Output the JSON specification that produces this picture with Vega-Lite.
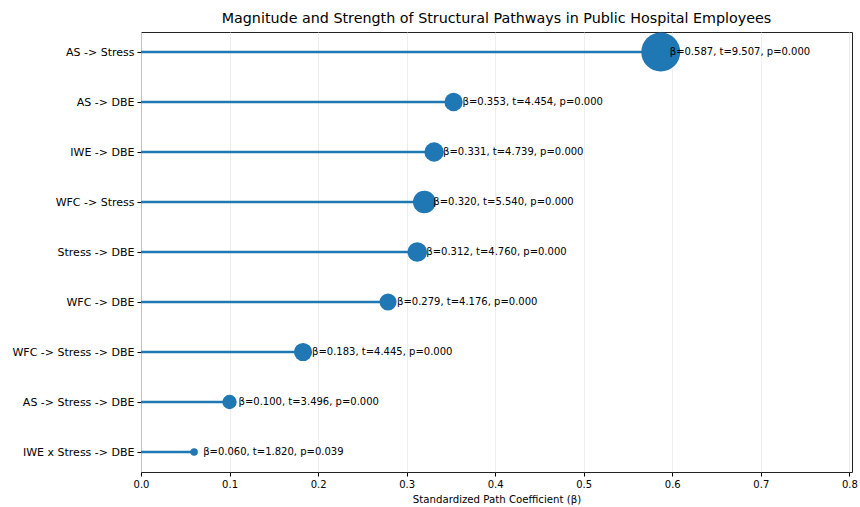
{
  "$schema": "https://vega.github.io/schema/vega-lite/v6.json",
  "width": 711,
  "height": 440,
  "autosize": {"type": "none"},
  "padding": {"left": 141, "top": 32, "right": 8, "bottom": 35},
  "background": "white",
  "title": {
    "text": "Magnitude and Strength of Structural Pathways in Public Hospital Employees",
    "font": "DejaVu Sans",
    "fontSize": 14.3,
    "fontWeight": "normal",
    "color": "#000000",
    "anchor": "middle",
    "offset": 6
  },
  "config": {
    "view": {"stroke": "#222222", "strokeWidth": 1},
    "axis": {
      "labelFont": "DejaVu Sans",
      "titleFont": "DejaVu Sans",
      "labelFontSize": 10,
      "titleFontSize": 10.2,
      "titleFontWeight": "normal",
      "labelColor": "#000000",
      "titleColor": "#000000",
      "tickColor": "#000000",
      "domain": false,
      "tickSize": 4
    }
  },
  "data": {
    "values": [
      {"path": "AS -> Stress", "beta": 0.587, "t": 9.507, "p": 0.000, "label": "β=0.587, t=9.507, p=0.000"},
      {"path": "AS -> DBE", "beta": 0.353, "t": 4.454, "p": 0.000, "label": "β=0.353, t=4.454, p=0.000"},
      {"path": "IWE -> DBE", "beta": 0.331, "t": 4.739, "p": 0.000, "label": "β=0.331, t=4.739, p=0.000"},
      {"path": "WFC -> Stress", "beta": 0.320, "t": 5.540, "p": 0.000, "label": "β=0.320, t=5.540, p=0.000"},
      {"path": "Stress -> DBE", "beta": 0.312, "t": 4.760, "p": 0.000, "label": "β=0.312, t=4.760, p=0.000"},
      {"path": "WFC -> DBE", "beta": 0.279, "t": 4.176, "p": 0.000, "label": "β=0.279, t=4.176, p=0.000"},
      {"path": "WFC -> Stress -> DBE", "beta": 0.183, "t": 4.445, "p": 0.000, "label": "β=0.183, t=4.445, p=0.000"},
      {"path": "AS -> Stress -> DBE", "beta": 0.100, "t": 3.496, "p": 0.000, "label": "β=0.100, t=3.496, p=0.000"},
      {"path": "IWE x Stress -> DBE", "beta": 0.060, "t": 1.820, "p": 0.039, "label": "β=0.060, t=1.820, p=0.039"}
    ]
  },
  "encoding": {
    "y": {
      "field": "path",
      "type": "nominal",
      "sort": ["AS -> Stress", "AS -> DBE", "IWE -> DBE", "WFC -> Stress", "Stress -> DBE", "WFC -> DBE", "WFC -> Stress -> DBE", "AS -> Stress -> DBE", "IWE x Stress -> DBE"],
      "scale": {"type": "point", "padding": 0.4},
      "axis": {"title": null, "grid": false, "labelPadding": 3, "labelFontSize": 11}
    },
    "x": {
      "field": "beta",
      "type": "quantitative",
      "scale": {"domain": [0, 0.803], "nice": false, "zero": false},
      "axis": {
        "title": "Standardized Path Coefficient (β)",
        "values": [0, 0.1, 0.2, 0.3, 0.4, 0.5, 0.6, 0.7, 0.8],
        "format": ".1f",
        "labelFlush": false,
        "grid": true,
        "gridColor": "#e8e8e8",
        "gridWidth": 0.8,
        "labelPadding": 3,
        "titlePadding": 5
      }
    }
  },
  "layer": [
    {
      "mark": {"type": "rule", "color": "#1f77b4", "strokeWidth": 2.5},
      "encoding": {
        "x2": {"datum": 0}
      }
    },
    {
      "mark": {"type": "circle", "color": "#1f77b4", "opacity": 1},
      "encoding": {
        "size": {
          "field": "t",
          "type": "quantitative",
          "scale": {"type": "pow", "exponent": 2, "domain": [0, 10], "range": [0, 1680]},
          "legend": null
        }
      }
    },
    {
      "mark": {"type": "text", "align": "left", "baseline": "middle", "dx": 9, "font": "DejaVu Sans", "fontSize": 10, "color": "#000000"},
      "encoding": {
        "text": {"field": "label"}
      }
    }
  ]
}
